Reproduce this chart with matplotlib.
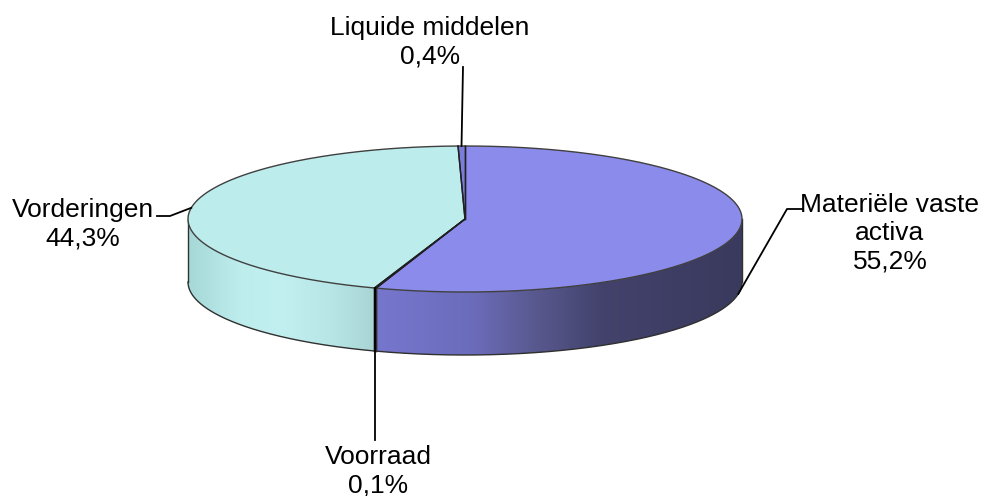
import numpy as np
import matplotlib.pyplot as plt
from matplotlib.patches import Polygon
from matplotlib.colors import LinearSegmentedColormap

# data
labels = ['Materiële vaste\nactiva', 'Voorraad', 'Vorderingen', 'Liquide middelen']
values = [55.2, 0.1, 44.3, 0.4]
pct_text = ['55,2%', '0,1%', '44,3%', '0,4%']
top_colors = ['#8B8BEB', '#993366', '#BCECEC', '#7C7CDA']

# gradient along the side wall of each slice
side_stops = [
    [(0, '#7676CE'), (0.26, '#6C6CBC'), (0.44, '#58588E'), (0.62, '#42426C'), (1, '#3A3A5E')],
    [(0, '#7A2850'), (1, '#5A1D3A')],
    [(0, '#A6D8D8'), (0.28, '#BEEDED'), (0.5, '#C2F0F0'), (0.76, '#B8E6E6'), (1, '#A8D4D4')],
    [(0, '#6A6AC0'), (1, '#5A5AA0')],
]

# geometry of the pie (pixels)
cx, cy = 465, 219
rx, ry = 277, 73
depth = 63

plt.rcParams['font.family'] = ['Liberation Sans', 'DejaVu Sans']

fig = plt.figure(figsize=(9.86, 4.96), dpi=100)
ax = fig.add_axes([0, 0, 1, 1])


def px(t):
    return cx + rx * np.cos(np.radians(t))


def py(t):
    return cy - ry * np.sin(np.radians(t))


# slice angles, start at 12 o'clock, clockwise
cum = np.concatenate([[0], np.cumsum(values)])
t_start = 90 - 360 * cum[:-1] / 100
t_end = 90 - 360 * cum[1:] / 100

# side walls (front half only), gradient clipped to the wall shape
for i in range(len(values)):
    a = max(t_end[i], -180)
    b = min(t_start[i], 0)
    if b <= a:
        continue
    cmap = LinearSegmentedColormap.from_list('s%d' % i, side_stops[i])
    ts = np.linspace(a, b, max(int((b - a) * 3), 2))
    xs, ys = px(ts), py(ts)
    pts = list(zip(xs, ys)) + list(zip(xs[::-1], ys[::-1] + depth))
    wall = Polygon(pts, closed=True, facecolor='none', edgecolor='none')
    ax.add_patch(wall)
    x0, x1 = xs.min(), xs.max()
    grad = np.linspace(0, 1, 256).reshape(1, -1)
    im = ax.imshow(grad, cmap=cmap, aspect='auto', interpolation='bilinear',
                   extent=(x0, x1, ys.max() + depth + 1, ys.min() - 1), zorder=1)
    im.set_clip_path(wall)
    # outline of the wall
    ax.plot(xs, ys + depth, color='#303030', lw=1.0, zorder=2)
    ax.plot([xs[0], xs[0]], [ys[0], ys[0] + depth], color='#303030', lw=1.0, zorder=2)
    ax.plot([xs[-1], xs[-1]], [ys[-1], ys[-1] + depth], color='#303030', lw=1.0, zorder=2)

ax.set_xlim(0, 986)
ax.set_ylim(496, 0)
ax.axis('off')

# top faces
for i in range(len(values)):
    ts = np.linspace(t_start[i], t_end[i], max(int(abs(t_start[i] - t_end[i]) * 3), 2))
    pts = [(cx, cy)] + list(zip(px(ts), py(ts)))
    ax.add_patch(Polygon(pts, closed=True, facecolor=top_colors[i], edgecolor='none', zorder=3))
    ax.plot(px(ts), py(ts), color='#404040', lw=1.0, zorder=4)
    for t in (t_start[i], t_end[i]):
        ax.plot([cx, px(t)], [cy, py(t)], color='#202020', lw=1.0, zorder=4)

# labels and leader lines
mid = (t_start + t_end) / 2
lead = dict(color='black', lw=1.3, zorder=5)
txt = dict(ha='center', va='center', fontsize=19, linespacing=1.22)

# Materiële vaste activa
ax.plot([px(mid[0]), 787, 802], [py(mid[0]) + depth, 209, 209], **lead)
ax.text(890, 233, labels[0] + '\n' + pct_text[0], **txt)

# Voorraad
ax.plot([px(mid[1]), px(mid[1])], [py(mid[1]), 440], **lead)
ax.text(378, 471, labels[1] + '\n' + pct_text[1], **txt)

# Vorderingen
ax.plot([px(mid[2]), 170, 157], [py(mid[2]), 216, 216], **lead)
ax.text(83, 224, labels[2] + '\n' + pct_text[2], **txt)

# Liquide middelen
ax.plot([px(mid[3]), 463], [py(mid[3]), 67], **lead)
ax.text(430, 42, labels[3] + '\n' + pct_text[3], **txt)

fig.savefig('out.png', dpi=100)
